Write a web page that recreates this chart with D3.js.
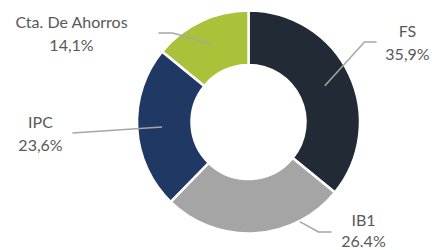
<!DOCTYPE html>
<html><head><meta charset="utf-8">
<script src="https://cdn.jsdelivr.net/npm/d3@7"></script>
<style>html,body{margin:0;padding:0;background:#fff;}svg{display:block;}</style>
</head><body>
<svg id="c" width="432" height="250"></svg>
<script>
const categories = ["FS", "IB1", "IPC", "Cta. De Ahorros"];
const values = [35.9, 26.4, 23.6, 14.1];
const valueLabels = ["35,9%", "26.4%", "23,6%", "14,1%"];
const colors = ["#222a35", "#a5a5a5", "#203864", "#aac23a"];

const svg = d3.select("#c");
const cx = 248.5, cy = 122, R = 111.5, r = 57;
const g = svg.append("g").attr("transform", `translate(${cx},${cy})`);

const pie = d3.pie().sort(null).value(d => d)(values);
const arc = d3.arc().innerRadius(r).outerRadius(R);
g.selectAll("path.s").data(pie).join("path")
  .attr("class", "s")
  .attr("d", arc)
  .attr("fill", (d, i) => colors[i])
  .attr("stroke", "#fff").attr("stroke-width", 2.5);

// label layout: label anchor (relative to centre), leader points
const layout = [
  {lx: 159, ly: -85, gap: 22.5, startR: 84.5, startA: null, pts: [[116, -80], [128, -80]]},
  {lx: 115, ly: 104, gap: 21, startR: 112, startA: 152.8, pts: [[70, 110], [83, 110]]},
  {lx: -208, ly: 6, gap: 22.5, startR: 86.5, startA: null, pts: [[-176, 11]]},
  {lx: -177, ly: -94, gap: 22.5, startR: 86.5, startA: null, pts: [[-76, -89], [-90, -89]]}
];

pie.forEach((d, i) => {
  const L = layout[i];
  const a = L.startA != null ? L.startA * Math.PI / 180 : (d.startAngle + d.endAngle) / 2;
  const s = [L.startR * Math.sin(a), -L.startR * Math.cos(a)];
  const pts = [s].concat(L.pts);
  g.append("path")
    .attr("d", d3.line()(pts))
    .attr("fill", "none").attr("stroke", "#a6a6a6").attr("stroke-width", 1.5);
  const t = g.append("text")
    .attr("text-anchor", "middle")
    .attr("font-family", "Lato, 'Open Sans', sans-serif")
    .attr("font-size", 16).attr("fill", "#595959");
  t.append("tspan").attr("x", L.lx).attr("y", L.ly).text(categories[i]);
  t.append("tspan").attr("x", L.lx).attr("y", L.ly + L.gap).text(valueLabels[i]);
});
</script>
</body></html>
